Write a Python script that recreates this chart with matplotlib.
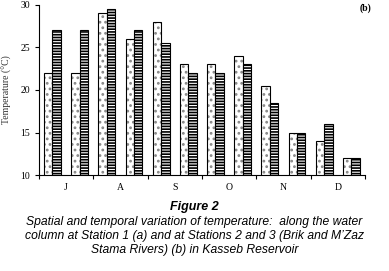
import numpy as np
import matplotlib
matplotlib.use("Agg")
import matplotlib.pyplot as plt

months = ["J", "A", "S", "O", "N", "D"]
station2 = [22, 22, 29, 26, 28, 23, 23, 24, 20.5, 15, 14, 12]
station3 = [27, 27, 29.5, 27, 25.5, 22, 22, 23, 18.5, 15, 16, 12]

plt.rcParams["hatch.linewidth"] = 1.2

fig = plt.figure(figsize=(3.89, 2.71), dpi=100)
ax = fig.add_axes([0.100, 0.354, 0.838, 0.628])

x = np.arange(len(station2))
w = 0.31
# dotted bars: grey hatch, then black outline on top
ax.bar(x - w / 2, station2, w, color="white", edgecolor="#888888",
       hatch="...", linewidth=0)
ax.bar(x - w / 2, station2, w, color="none", edgecolor="black", linewidth=0.8)
ax.bar(x + w / 2, station3, w, color="white", edgecolor="black",
       hatch="------", linewidth=0.8)

ax.set_ylim(10, 30)
ax.set_xlim(-0.5, len(station2) - 0.5)
ax.set_yticks([10, 15, 20, 25, 30])
ax.set_xticks(np.arange(-0.5, len(station2), 2))
ax.set_xticklabels([])
ax.set_xticks(np.arange(0.5, len(station2), 2), minor=True)
ax.set_xticklabels(months, minor=True)
ax.tick_params(axis="x", which="minor", length=0, pad=6)
ax.tick_params(axis="both", which="major", length=3, width=0.8, direction="out")
for lab in ax.get_xticklabels(minor=True) + ax.get_yticklabels():
    lab.set_fontfamily("Liberation Serif")
    lab.set_fontsize(7)

ax.spines["top"].set_visible(False)
ax.spines["right"].set_visible(False)
ax.set_ylabel("Temperature (°C)", fontfamily="Liberation Serif", fontsize=7,
              color="#333333", labelpad=6)

fig.text(0.94, 0.97, "(b)", fontfamily="Liberation Serif", fontweight="bold",
         fontsize=7, ha="center", va="center")

fig.text(0.5, 0.236, "Figure 2", fontfamily="Liberation Sans", fontstyle="italic",
         fontweight="bold", fontsize=9, ha="center", va="center")
caption = ("Spatial and temporal variation of temperature:  along the water\n"
           "column at Station 1 (a) and at Stations 2 and 3 (Brik and M\u2019Zaz\n"
           "Stama Rivers) (b) in Kasseb Reservoir")
fig.text(0.5, 0.129, caption, fontfamily="Liberation Sans", fontstyle="italic",
         fontsize=8.7, ha="center", va="center", linespacing=1.18)

fig.savefig("out.png", dpi=100)
